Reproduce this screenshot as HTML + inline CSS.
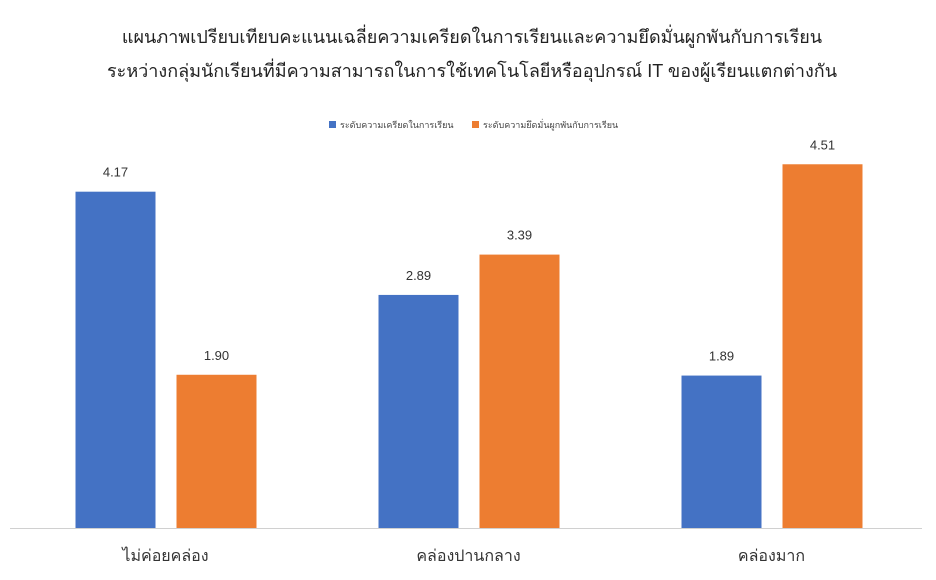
<!DOCTYPE html>
<html><head><meta charset="utf-8">
<style>
body{margin:0;background:#fff;font-family:"Liberation Sans","DejaVu Sans","Noto Sans CJK SC",sans-serif;}
svg{display:block}
</style></head>
<body>
<svg id="chart" width="936" height="580" xmlns="http://www.w3.org/2000/svg">
<text x="472" y="43" text-anchor="middle" font-size="18" fill="#222">แผนภาพเปรียบเทียบคะแนนเฉลี่ยความเครียดในการเรียนและความยึดมั่นผูกพันกับการเรียน</text>
<text x="472" y="77" text-anchor="middle" font-size="18" fill="#222">ระหว่างกลุ่มนักเรียนที่มีความสามารถในการใช้เทคโนโลยีหรืออุปกรณ์ IT ของผู้เรียนแตกต่างกัน</text>
<g>
<rect x="329" y="121" width="7" height="7" fill="#4472c4"/>
<text x="340" y="128" font-size="9" fill="#444">ระดับความเครียดในการเรียน</text>
<rect x="472" y="121" width="7" height="7" fill="#ed7d31"/>
<text x="483" y="128" font-size="9" fill="#444">ระดับความยึดมั่นผูกพันกับการเรียน</text>
</g>
<line x1="10" y1="528.5" x2="922" y2="528.5" stroke="#d0d0d0" stroke-width="1"/>
<g id="marks"></g>
</svg>
<script>
const categories=["ไม่ค่อยคล่อง","คล่องปานกลาง","คล่องมาก"];
const stressValues=[4.17,2.89,1.89];
const engagementValues=[1.90,3.39,4.51];
const colors=["#4472c4","#ed7d31"];
const y0=528, pxPerUnit=80.65, left=14, groupW=303;
function yScale(v){return y0-v*pxPerUnit;}
function xCenter(i){return left+groupW*(i+0.5);}
const NS="http://www.w3.org/2000/svg";
const g=document.getElementById("marks");
function mk(tag,attrs){const e=document.createElementNS(NS,tag);for(const k in attrs)e.setAttribute(k,attrs[k]);return e;}
const series=[stressValues,engagementValues];
categories.forEach((c,i)=>{
  const cx=xCenter(i);
  series.forEach((vals,s)=>{
    const v=vals[i];
    const x=s===0?cx-90:cx+11;
    const r=mk("rect",{x:x,y:yScale(v),width:80,height:y0-yScale(v),fill:colors[s]});
    
    
    g.appendChild(r);
    const t=mk("text",{x:x+40,y:yScale(v)-15,"text-anchor":"middle","font-size":"13",fill:"#333"});
    
    
    t.textContent=v.toFixed(2);
    g.appendChild(t);
  });
  const l=mk("text",{x:cx,y:561,"text-anchor":"middle","font-size":"16",fill:"#333"});
  
  
  l.textContent=c;
  g.appendChild(l);
});
</script>
</body></html>
